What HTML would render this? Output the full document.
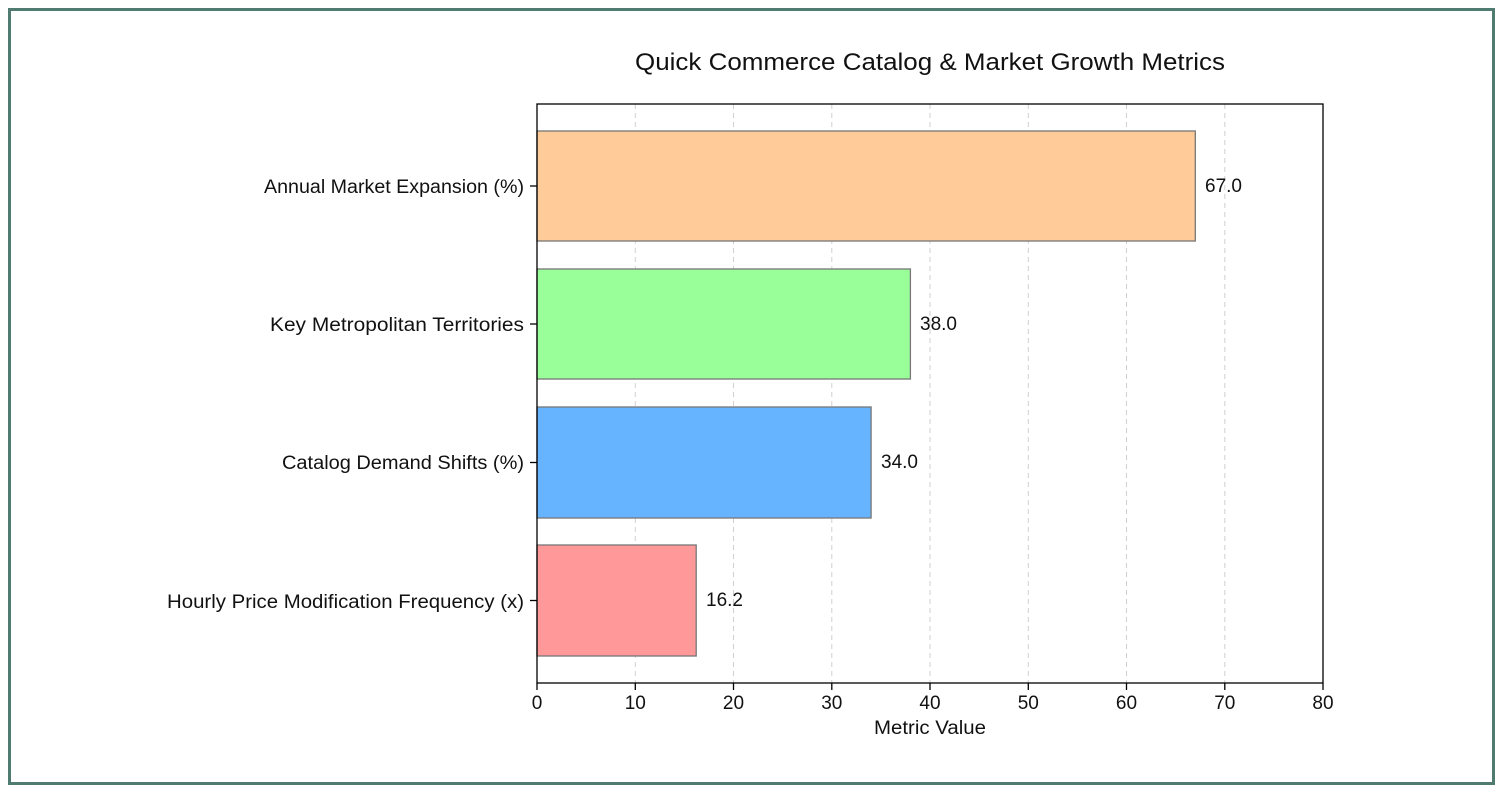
<!DOCTYPE html>
<html><head><meta charset="utf-8"><style>
html,body{margin:0;padding:0;background:#fff;}
svg{display:block;font-family:"Liberation Sans",sans-serif;}
</style></head><body>
<svg width="1503" height="793" viewBox="0 0 1503 793" xmlns="http://www.w3.org/2000/svg">
<rect x="0" y="0" width="1503" height="793" fill="#fff"/>
<rect x="9.5" y="9.5" width="1484" height="774" fill="none" stroke="#4f7b70" stroke-width="3"/>
<text x="930" y="70" font-size="24" text-anchor="middle" fill="#111" textLength="590" lengthAdjust="spacingAndGlyphs">Quick Commerce Catalog &amp; Market Growth Metrics</text>
<g stroke="#d0d0d0" stroke-width="1" stroke-dasharray="5,4">
<line x1="635.3" y1="104" x2="635.3" y2="683"/>
<line x1="733.5" y1="104" x2="733.5" y2="683"/>
<line x1="831.8" y1="104" x2="831.8" y2="683"/>
<line x1="930" y1="104" x2="930" y2="683"/>
<line x1="1028.3" y1="104" x2="1028.3" y2="683"/>
<line x1="1126.5" y1="104" x2="1126.5" y2="683"/>
<line x1="1224.8" y1="104" x2="1224.8" y2="683"/>
</g>
<g stroke="#777" stroke-width="1.3">
<rect x="537" y="131" width="658.3" height="110" fill="#ffcc99"/>
<rect x="537" y="269" width="373.4" height="110" fill="#99ff99"/>
<rect x="537" y="407" width="334.1" height="111" fill="#66b3ff"/>
<rect x="537" y="545" width="159.2" height="111" fill="#ff9999"/>
</g>
<rect x="537" y="104" width="786" height="579" fill="none" stroke="#000" stroke-width="1.3"/>
<g font-size="19" fill="#111">
<text x="1205" y="192">67.0</text>
<text x="920" y="330">38.0</text>
<text x="881" y="468">34.0</text>
<text x="706" y="606">16.2</text>
</g>
<g font-size="19" fill="#111" text-anchor="end">
<text x="524" y="193" textLength="260" lengthAdjust="spacingAndGlyphs">Annual Market Expansion (%)</text>
<text x="524" y="331" textLength="254" lengthAdjust="spacingAndGlyphs">Key Metropolitan Territories</text>
<text x="524" y="469" textLength="242" lengthAdjust="spacingAndGlyphs">Catalog Demand Shifts (%)</text>
<text x="524" y="608" textLength="357" lengthAdjust="spacingAndGlyphs">Hourly Price Modification Frequency (x)</text>
</g>
<g stroke="#000" stroke-width="1.3">
<line x1="530" y1="186" x2="537" y2="186"/>
<line x1="530" y1="324" x2="537" y2="324"/>
<line x1="530" y1="462.5" x2="537" y2="462.5"/>
<line x1="530" y1="600.5" x2="537" y2="600.5"/>
<line x1="537" y1="683" x2="537" y2="690"/>
<line x1="635.3" y1="683" x2="635.3" y2="690"/>
<line x1="733.5" y1="683" x2="733.5" y2="690"/>
<line x1="831.8" y1="683" x2="831.8" y2="690"/>
<line x1="930" y1="683" x2="930" y2="690"/>
<line x1="1028.3" y1="683" x2="1028.3" y2="690"/>
<line x1="1126.5" y1="683" x2="1126.5" y2="690"/>
<line x1="1224.8" y1="683" x2="1224.8" y2="690"/>
<line x1="1323" y1="683" x2="1323" y2="690"/>
</g>
<g font-size="19" fill="#111" text-anchor="middle">
<text x="537" y="709">0</text>
<text x="635.3" y="709">10</text>
<text x="733.5" y="709">20</text>
<text x="831.8" y="709">30</text>
<text x="930" y="709">40</text>
<text x="1028.3" y="709">50</text>
<text x="1126.5" y="709">60</text>
<text x="1224.8" y="709">70</text>
<text x="1323" y="709">80</text>
<text x="930" y="734" textLength="112" lengthAdjust="spacingAndGlyphs">Metric Value</text>
</g>
</svg>
</body></html>
